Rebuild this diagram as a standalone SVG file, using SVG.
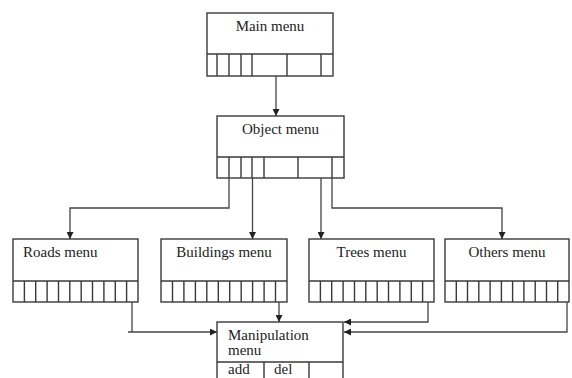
<svg xmlns="http://www.w3.org/2000/svg" width="572" height="378" viewBox="0 0 572 378">
<style>
.box{fill:#fff;stroke:#3a3a3a;stroke-width:1.4}
.div{stroke:#3a3a3a;stroke-width:1.4;fill:none}
.con{stroke:#444;stroke-width:1.3;fill:none}
text{font-family:"Liberation Serif","Times New Roman",serif;font-size:15px;fill:#222}
</style>
<defs>
<marker id="ah" viewBox="0 0 10 10" refX="10" refY="5" markerWidth="7" markerHeight="7" markerUnits="userSpaceOnUse" orient="auto">
<path d="M0,0 L10,5 L0,10 z" fill="#222"/>
</marker>
</defs>
<rect width="572" height="378" fill="#fff"/>
<g id="main-menu">
<rect class="box" x="207" y="13" width="126" height="63"/>
<path class="div" d="M207,54H333M217,54V76M229,54V76M241,54V76M252,54V76M287,54V76M321,54V76"/>
<text x="270" y="31" text-anchor="middle">Main menu</text>
</g>
<g id="object-menu">
<rect class="box" x="217" y="116" width="127" height="62"/>
<path class="div" d="M217,157H344M229,157V178M241,157V178M252,157V178M264,157V178M298,157V178M332,157V178"/>
<text x="280.5" y="134" text-anchor="middle">Object menu</text>
</g>
<g id="roads-menu">
<rect class="box" x="13" y="239" width="125" height="63"/>
<path class="div" d="M13,281H138M24.4,281V302M35.7,281V302M47.1,281V302M58.5,281V302M69.8,281V302M81.2,281V302M92.5,281V302M103.9,281V302M115.3,281V302M126.6,281V302"/>
<text x="23" y="257">Roads menu</text>
</g>
<g id="buildings-menu">
<rect class="box" x="161" y="239" width="126" height="63"/>
<path class="div" d="M161,281H287M172.5,281V302M183.9,281V302M195.4,281V302M206.8,281V302M218.3,281V302M229.7,281V302M241.2,281V302M252.6,281V302M264.1,281V302M275.5,281V302"/>
<text x="224" y="257" text-anchor="middle">Buildings menu</text>
</g>
<g id="trees-menu">
<rect class="box" x="309" y="239" width="125" height="63"/>
<path class="div" d="M309,281H434M320.4,281V302M331.7,281V302M343.1,281V302M354.5,281V302M365.8,281V302M377.2,281V302M388.5,281V302M399.9,281V302M411.3,281V302M422.6,281V302"/>
<text x="371.5" y="257" text-anchor="middle">Trees menu</text>
</g>
<g id="others-menu">
<rect class="box" x="445" y="239" width="124" height="63"/>
<path class="div" d="M445,281H569M456.3,281V302M467.5,281V302M478.8,281V302M490.1,281V302M501.4,281V302M512.6,281V302M523.9,281V302M535.2,281V302M546.5,281V302M557.7,281V302"/>
<text x="507" y="257" text-anchor="middle">Others menu</text>
</g>
<g id="manipulation-menu">
<rect class="box" x="217" y="322" width="126" height="70"/>
<path class="div" d="M217,362H343M264,362V392M309,362V392"/>
<text x="228" y="340">Manipulation</text>
<text x="228" y="355">menu</text>
<text x="228" y="374">add</text>
<text x="274" y="374">del</text>
</g>
<g id="connectors">
<path class="con" d="M276,76V116" marker-end="url(#ah)"/>
<path class="con" d="M229,178V208H70V239" marker-end="url(#ah)"/>
<path class="con" d="M252.5,178V239" marker-end="url(#ah)"/>
<path class="con" d="M321,178V239" marker-end="url(#ah)"/>
<path class="con" d="M332,178V208H502V239" marker-end="url(#ah)"/>
<path class="con" d="M132,302V332"/>
<path class="con" d="M128,332H217" marker-end="url(#ah)"/>
<path class="con" d="M279,302V322" marker-end="url(#ah)"/>
<path class="con" d="M428,302V322H344" marker-end="url(#ah)"/>
<path class="con" d="M567,302V332H344" marker-end="url(#ah)"/>
</g>
</svg>
